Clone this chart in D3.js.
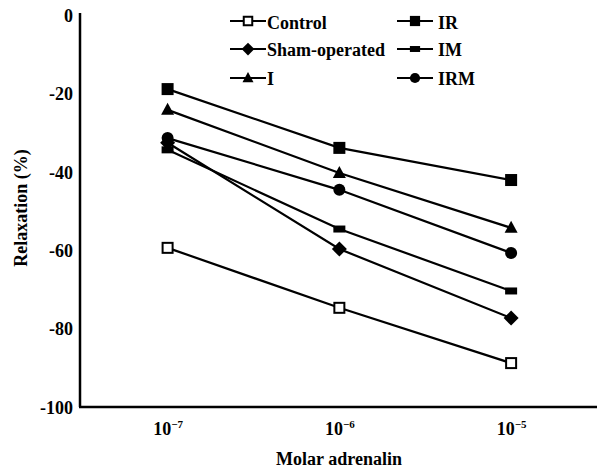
<!DOCTYPE html>
<html><head><meta charset="utf-8">
<script src="https://cdn.jsdelivr.net/npm/d3@7"></script>
<style>body{margin:0;background:#fff}svg{display:block}</style>
</head><body>
<svg id="c" width="597" height="470"></svg>
<script>
const concentrations = [1e-7, 1e-6, 1e-5];
const xTickExponents = ["7", "6", "5"];
const yTicks = [0, -20, -40, -60, -80, -100];
const seriesNames = ["Control", "Sham-operated", "I", "IR", "IM", "IRM"];
const control = [-59.4, -74.7, -88.8];
const sham = [-32.6, -59.7, -77.3];
const iGroup = [-24.2, -40.3, -54.3];
const ir = [-18.9, -33.9, -42.1];
const im = [-34.4, -54.6, -70.4];
const irm = [-31.4, -44.6, -60.7];
const seriesValues = [control, sham, iGroup, ir, im, irm];
const markers = ["openSquare", "diamond", "triangle", "square", "bar", "circle"];

const FONT = '"Liberation Serif", "Times New Roman", serif';
const FS = "18px";
const svg = d3.select("#c");
const x = d3.scaleLog().domain([Math.pow(10, -7.51), Math.pow(10, -4.5)]).range([80, 597]);
const y = d3.scaleLinear().domain([-100, 0]).range([407, 15]);

function styleText(sel, size) {
  return sel.attr("font-family", FONT).attr("font-weight", "bold").attr("font-size", size || FS).attr("fill", "#000");
}

// axes
const yAxis = svg.append("g").attr("transform", "translate(80,0)")
  .call(d3.axisLeft(y).tickValues(yTicks).tickSize(0).tickPadding(6).tickFormat(d => String(d)));
yAxis.attr("font-family", FONT);
yAxis.select(".domain").attr("stroke", "#000").attr("stroke-width", 2.5).attr("d", "M0,13V407");
styleText(yAxis.selectAll("text")).attr("dy", "0.35em").attr("x", -7);

const xAxis = svg.append("g").attr("transform", "translate(0,407)")
  .call(d3.axisBottom(x).tickValues(concentrations).tickSize(0).tickFormat(""));
xAxis.select(".domain").attr("stroke", "#000").attr("stroke-width", 2.5).attr("d", "M79,0H597");
xAxis.selectAll(".tick").each(function(d, i) {
  const t = styleText(d3.select(this).append("text")).attr("y", 28).attr("text-anchor", "middle");
  t.append("tspan").text("10");
  t.append("tspan").attr("dy", "-7").attr("font-size", "11px").text("\u2212" + xTickExponents[i]);
});

styleText(svg.append("text")).attr("x", 339).attr("y", 465).attr("text-anchor", "middle").text("Molar adrenalin");
styleText(svg.append("text")).attr("transform", "translate(27,208) rotate(-90)").attr("text-anchor", "middle").text("Relaxation (%)");

function drawMarker(g, type, cx, cy, small) {
  const k = small ? 0.85 : 1;
  if (type === "openSquare") g.append("rect").attr("x", cx - 5 * k).attr("y", cy - 5 * k).attr("width", 10 * k).attr("height", 10 * k).attr("fill", "#fff").attr("stroke", "#000").attr("stroke-width", 2);
  else if (type === "square") g.append("rect").attr("x", cx - 6 * k).attr("y", cy - 6 * k).attr("width", 12 * k).attr("height", 12 * k).attr("fill", "#000");
  else if (type === "bar") g.append("rect").attr("x", cx - 6 * k).attr("y", cy - 3.5 * k).attr("width", 12 * k).attr("height", 7 * k).attr("fill", "#000");
  else if (type === "diamond") g.append("path").attr("d", `M${cx},${cy-7.5*k}L${cx+7.5*k},${cy}L${cx},${cy+7.5*k}L${cx-7.5*k},${cy}Z`).attr("fill", "#000");
  else if (type === "triangle") g.append("path").attr("d", `M${cx},${cy-7*k}L${cx+6.5*k},${cy+5*k}L${cx-6.5*k},${cy+5*k}Z`).attr("fill", "#000");
  else if (type === "circle") g.append("circle").attr("cx", cx).attr("cy", cy).attr("r", 6 * k).attr("fill", "#000");
}

const line = d3.line().x((d, i) => x(concentrations[i])).y(d => y(d));
seriesValues.forEach((vals, s) => {
  const g = svg.append("g");
  g.append("path").attr("d", line(vals)).attr("fill", "none").attr("stroke", "#000").attr("stroke-width", 2.2);
  vals.forEach((v, i) => drawMarker(g, markers[s], x(concentrations[i]), y(v)));
});

// legend
const legX = [230, 397], legTextX = [267, 438], legY = [21, 49, 78], legBase = [29, 56, 85];
seriesNames.forEach((name, k) => {
  const col = k < 3 ? 0 : 1, row = k % 3;
  const g = svg.append("g");
  const x0 = legX[col], x1 = legX[col] + 36, yy = legY[row];
  g.append("line").attr("x1", x0).attr("x2", x1).attr("y1", yy).attr("y2", yy).attr("stroke", "#000").attr("stroke-width", 2.2);
  drawMarker(g, markers[k], (x0 + x1) / 2, yy, true);
  styleText(g.append("text")).attr("x", legTextX[col]).attr("y", legBase[row]).text(name);
});
</script>
</body></html>
